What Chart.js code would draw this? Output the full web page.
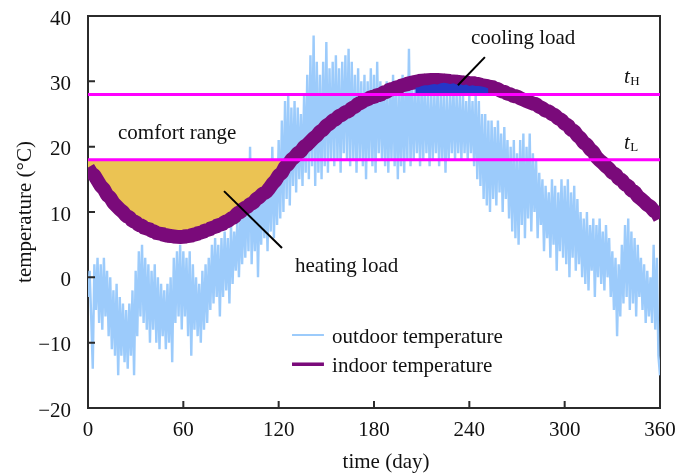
<!DOCTYPE html>
<html lang="en">
<head>
    <meta charset="UTF-8">
    <title>Indoor and outdoor temperature</title>
    <script src="https://cdn.jsdelivr.net/npm/chart.js"></script>
    <style>
        body { margin: 0; background: #fff; }
        #wrap { width: 692px; height: 474px; }
    </style>
</head>
<body>
    <div id="wrap"><canvas id="tempChart"></canvas></div>

    <script>
        // outdoor temperature, one value per day (day 0 .. 360)
        const outdoorTemp = [
            -3, 1, -6, -14, 2, -5, 3, -7, 2, -8,
            3, -6, 1, -9, 0, -11, -2, -12, -1, -15,
            -3, -12, -4, -13, -5, -14, -4, -12, -2, -15,
            1, -9, 4, -6, 5, -7, 3, -8, 2, -10,
            1, -8, 2, -10, 0, -11, -1, -9, -2, -11,
            -1, -10, 0, -13, 3, -7, 4, -6, 5, -8,
            4, -6, 3, -9, 4, -12, 2, -8, 0, -9,
            -1, -10, 1, -8, 2, -7, 3, -5, 5, -4,
            6, -3, 5, -6, 6, -3, 7, -2, 6, -4,
            8, -1, 7, 1, 9, 0, 10, 2, 12, 3,
            14, 4, 20, 2, 13, 4, 15, 0, 14, 5,
            16, 6, 15, 4, 18, 7, 20, 6, 17, 8,
            21, 9, 24, 10, 27, 12, 28, 11, 26, 14,
            27, 13, 26, 15, 25, 14, 28, 16, 31, 15,
            34, 17, 37, 14, 33, 16, 31, 15, 33, 17,
            36, 16, 32, 18, 33, 17, 34, 18, 32, 16,
            33, 19, 34, 18, 35, 17, 33, 18, 31, 16,
            32, 18, 30, 17, 31, 15, 30, 18, 32, 17,
            31, 16, 33, 19, 30, 18, 29, 17, 30, 16,
            29, 18, 31, 17, 30, 15, 29, 17, 31, 16,
            30, 18, 35, 17, 30, 18, 29, 19, 29, 17,
            30, 18, 29, 19, 28, 17, 29, 18, 28, 19,
            29, 17, 28, 18, 29, 16, 28, 18, 28, 19,
            29, 18, 28, 19, 28, 18, 28, 19, 27, 18,
            28, 19, 27, 17, 28, 15, 27, 14, 25, 12,
            25, 11, 24, 10, 24, 12, 23, 11, 24, 13,
            22, 10, 23, 12, 21, 9, 20, 7, 21, 6,
            19, 5, 21, 8, 22, 6, 20, 9, 22, 7,
            19, 10, 18, 6, 16, 8, 15, 4, 14, 6,
            13, 3, 15, 5, 14, 1, 13, 4, 15, 3,
            14, 2, 15, 0, 13, 3, 14, 1, 12, 2,
            10, 0, 9, -1, 10, -2, 8, 1, 9, -3,
            8, 0, 9, -1, 7, -2, 8, 0, 6, -3,
            4, -5, 3, -9, 2, -6, 5, -4, 8, -3,
            9, -5, 7, -4, 6, -6, 5, -3, 3, -5,
            2, -7, 1, -6, 0, -7, 5, -8, 3, -12,
            -15
        ];
        const outdoorStep = 1;

        // indoor temperature, every 2 days (day 0 .. 360)
        const indoorTemp = [
            16.8, 16.0, 15.6, 14.8, 14.0, 13.5, 12.6, 12.2, 11.4, 10.9,
            10.4, 10.0, 9.4, 9.2, 8.6, 8.5, 8.0, 7.9, 7.4, 7.5,
            7.1, 7.0, 6.6, 6.8, 6.4, 6.5, 6.2, 6.4, 6.0, 6.3,
            6.1, 6.4, 6.2, 6.6, 6.5, 6.9, 6.8, 7.3, 7.2, 7.7,
            7.6, 8.1, 8.0, 8.5, 8.6, 9.0, 9.2, 9.8, 10.0, 10.6,
            10.7, 11.2, 11.4, 12.0, 12.3, 12.8, 13.0, 13.6, 14.3, 14.8,
            15.6, 16.0, 16.9, 17.3, 18.0, 18.4, 19.0, 19.3, 20.0, 20.3,
            20.8, 21.3, 21.7, 22.3, 22.6, 23.2, 23.5, 24.0, 24.2, 24.7,
            24.9, 25.3, 25.4, 25.9, 26.1, 26.6, 26.7, 27.2, 27.2, 27.6,
            27.6, 27.9, 27.9, 28.3, 28.4, 28.8, 28.8, 29.1, 29.1, 29.5,
            29.4, 29.8, 29.7, 30.0, 29.9, 30.2, 30.0, 30.3, 30.1, 30.3,
            30.1, 30.3, 30.0, 30.2, 29.9, 30.1, 29.8, 30.0, 29.7, 29.9,
            29.6, 29.8, 29.6, 29.6, 29.3, 29.4, 29.1, 29.2, 28.9, 28.8,
            28.5, 28.4, 28.1, 28.0, 27.7, 27.7, 27.4, 27.2, 27.0, 26.8,
            26.6, 26.5, 26.1, 25.9, 25.5, 25.4, 25.0, 24.8, 24.3, 24.1,
            23.5, 23.3, 22.6, 22.4, 21.7, 21.3, 20.6, 20.3, 19.6, 19.2,
            18.4, 17.9, 17.5, 17.0, 16.6, 16.0, 15.8, 15.1, 14.9, 14.2,
            14.0, 13.3, 13.1, 12.4, 12.0, 11.6, 11.1, 10.8, 10.2, 9.9,
            9.0
        ];
        const indoorStep = 2;

        // top edge of the cooling load patch, every 2 days from day 206
        const coolingStart = 206;
        const coolingTop = [
            29.0, 29.1, 29.3, 29.4, 29.4, 29.5, 29.6, 29.5, 29.7, 29.8,
            29.7, 29.6, 29.7, 29.5, 29.6, 29.4, 29.5, 29.3, 29.4, 29.3,
            29.3, 29.2, 29.1, 28.9
        ];

        const heatingEnd = 128;   // last day of the heating load area
        const tHigh = 28;
        const tLow = 18;
        const xTicks = [0, 60, 120, 180, 240, 300, 360];
        const yTicks = [-20, -10, 0, 10, 20, 30, 40];

        const serif = '"Liberation Serif", "DejaVu Serif", serif';
        const blue = '#9ccbfb';
        const purple = '#7a0a7a';

        const outdoorPts = outdoorTemp.map((v, i) => ({ x: i * outdoorStep, y: v }));
        const indoorPts = indoorTemp.map((v, i) => ({ x: i * indoorStep, y: v }));
        const heatingPts = indoorPts.filter(p => p.x <= heatingEnd);
        const coolingPts = coolingTop.map((v, i) => ({ x: coolingStart + i * 2, y: v }));

        // helper: draw text at a data position
        function label(chart, txt, day, temp, size, style) {
            const ctx = chart.ctx;
            const px = chart.scales.x.getPixelForValue(day);
            const py = chart.scales.y.getPixelForValue(temp);
            ctx.font = (style || '') + ' ' + size + 'px ' + serif;
            ctx.fillText(txt, px, py);
            return { px, py, w: ctx.measureText(txt).width };
        }

        function seg(chart, d1, t1, d2, t2, color, width) {
            const ctx = chart.ctx;
            const sx = chart.scales.x, sy = chart.scales.y;
            ctx.strokeStyle = color;
            ctx.lineWidth = width;
            ctx.beginPath();
            ctx.moveTo(sx.getPixelForValue(d1), sy.getPixelForValue(t1));
            ctx.lineTo(sx.getPixelForValue(d2), sy.getPixelForValue(t2));
            ctx.stroke();
        }

        const decor = {
            id: 'decor',
            beforeDatasetsDraw(chart) {
                const a = chart.chartArea, ctx = chart.ctx;
                ctx.save();
                ctx.strokeStyle = '#2b2b2b';
                ctx.lineWidth = 2;
                ctx.strokeRect(a.left, a.top, a.right - a.left, a.bottom - a.top);
                ctx.restore();
            },
            afterDatasetsDraw(chart) {
                const a = chart.chartArea, ctx = chart.ctx;
                const sx = chart.scales.x, sy = chart.scales.y;
                ctx.save();
                // inward tick marks
                ctx.strokeStyle = '#2b2b2b';
                ctx.lineWidth = 2;
                ctx.beginPath();
                yTicks.forEach(t => {
                    const py = sy.getPixelForValue(t);
                    ctx.moveTo(a.left, py);
                    ctx.lineTo(a.left + 7, py);
                });
                xTicks.forEach(d => {
                    const px = sx.getPixelForValue(d);
                    ctx.moveTo(px, a.bottom);
                    ctx.lineTo(px, a.bottom - 7);
                });
                ctx.stroke();

                ctx.fillStyle = '#111';
                ctx.textAlign = 'left';
                ctx.textBaseline = 'alphabetic';
                label(chart, 'comfort range', 18.9, 21.2, 21);
                label(chart, 'heating load', 130.3, 0.8, 21);
                label(chart, 'cooling load', 241, 35.7, 21);

                let t = label(chart, 't', 337.3, 29.75, 21, 'italic');
                ctx.font = '13px ' + serif;
                ctx.fillText('H', t.px + t.w + 0.5, t.py + 2);
                t = label(chart, 't', 337.3, 19.65, 21, 'italic');
                ctx.font = '13px ' + serif;
                ctx.fillText('L', t.px + t.w + 0.5, t.py + 2);

                // leader lines
                seg(chart, 85.6, 13.2, 122.1, 4.5, '#000', 2);
                seg(chart, 249.8, 33.7, 232.8, 29.4, '#000', 2);

                // legend
                seg(chart, 128.4, -8.83, 148.5, -8.83, blue, 2);
                seg(chart, 128.4, -13.3, 148.5, -13.3, purple, 3.5);
                ctx.fillStyle = '#111';
                label(chart, 'outdoor temperature', 153.6, -10.0, 21);
                label(chart, 'indoor temperature', 153.6, -14.44, 21);

                // axis titles
                ctx.font = '21px ' + serif;
                ctx.textAlign = 'center';
                ctx.fillText('time (day)', (a.left + a.right) / 2 + 12, chart.height - 6);
                ctx.translate(a.left - 63, (a.top + a.bottom) / 2);
                ctx.rotate(-Math.PI / 2);
                ctx.textBaseline = 'middle';
                ctx.fillText('temperature (°C)', 0, 0);
                ctx.restore();
            }
        };

        new Chart(document.getElementById('tempChart').getContext('2d'), {
            type: 'line',
            data: {
                datasets: [
                    { label: 'tH', data: [{ x: 0, y: tHigh }, { x: 360, y: tHigh }], borderColor: '#ff00ff', borderWidth: 3, pointRadius: 0, order: 0 },
                    { label: 'tL', data: [{ x: 0, y: tLow }, { x: 360, y: tLow }], borderColor: '#ff00ff', borderWidth: 3, pointRadius: 0, order: 0 },
                    { label: 'cooling load', data: coolingPts, borderWidth: 0, borderColor: 'rgba(0,0,0,0)', backgroundColor: '#2536c8', fill: { value: tHigh }, pointRadius: 0, order: 1 },
                    { label: 'indoor temperature', data: indoorPts, borderColor: purple, borderWidth: 14, borderJoinStyle: 'bevel', pointRadius: 0, order: 2 },
                    { label: 'heating load', data: heatingPts, borderWidth: 0, borderColor: 'rgba(0,0,0,0)', backgroundColor: '#ebc353', fill: { value: tLow }, pointRadius: 0, order: 3 },
                    { label: 'outdoor temperature', data: outdoorPts, borderColor: blue, borderWidth: 2.4, borderJoinStyle: 'bevel', pointRadius: 0, order: 4 }
                ]
            },
            options: {
                responsive: true,
                maintainAspectRatio: false,
                animation: false,
                layout: { padding: { left: 0, right: 32, top: 16, bottom: 0 } },
                scales: {
                    x: {
                        type: 'linear',
                        min: 0,
                        max: 360,
                        afterFit: s => { s.height = 66; },
                        afterBuildTicks: s => { s.ticks = xTicks.map(v => ({ value: v })); },
                        grid: { display: false, drawTicks: false },
                        border: { display: false },
                        ticks: { padding: 10, color: '#111', font: { family: serif, size: 21 }, maxRotation: 0 }
                    },
                    y: {
                        min: -20,
                        max: 40,
                        afterFit: s => { s.width = 88; s.paddingTop = 0; s.paddingBottom = 0; },
                        afterBuildTicks: s => { s.ticks = yTicks.map(v => ({ value: v })); },
                        grid: { display: false, drawTicks: false },
                        border: { display: false },
                        ticks: {
                            padding: 17,
                            labelOffset: 3,
                            color: '#111',
                            font: { family: serif, size: 21 },
                            callback: v => String(v).replace('-', '\u2212')
                        }
                    }
                },
                plugins: {
                    legend: { display: false },
                    tooltip: { enabled: false }
                }
            },
            plugins: [decor]
        });
    </script>
</body>
</html>
